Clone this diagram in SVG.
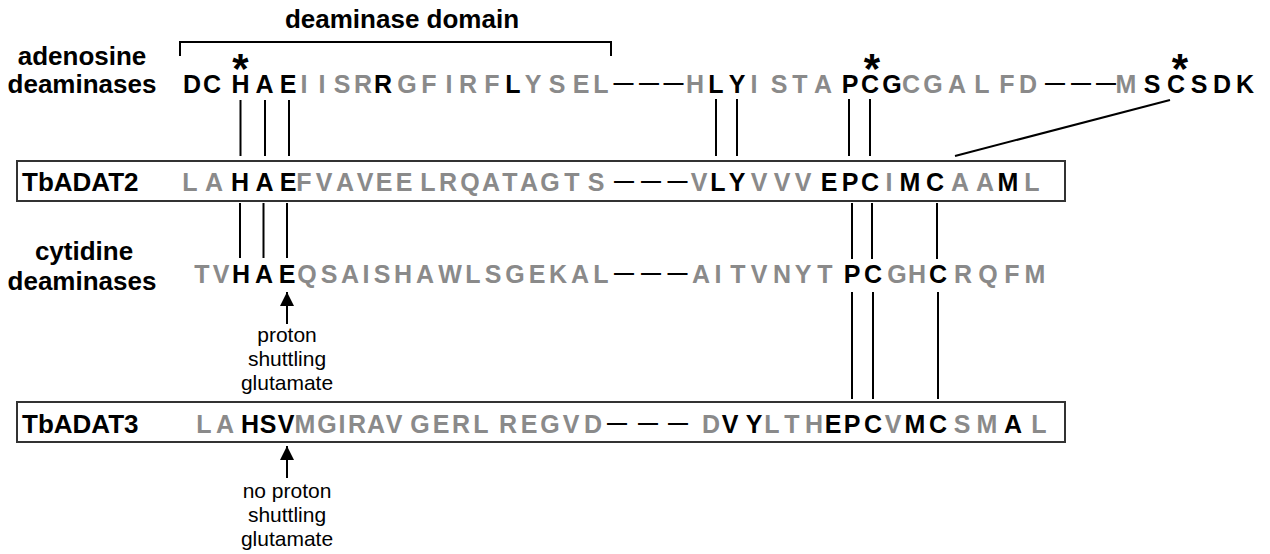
<svg xmlns="http://www.w3.org/2000/svg" width="1270" height="554" viewBox="0 0 1270 554">
<defs>
<style>
.lbl{font-family:"Liberation Sans",Arial,sans-serif;font-weight:bold;font-size:26px;fill:#000}
.mid{text-anchor:middle}
.seq{font-family:"Liberation Sans",Arial,sans-serif;font-weight:bold;font-size:25px;text-anchor:middle}
.k{fill:#000}
.g{fill:#8a8a8a}
.dash{font-family:"Liberation Sans",Arial,sans-serif;font-weight:bold;font-size:20px;text-anchor:middle;fill:#000}
.star{font-family:"Liberation Sans",Arial,sans-serif;font-weight:bold;font-size:42px;text-anchor:middle;fill:#000}
.note{font-family:"Liberation Sans",Arial,sans-serif;font-size:21px;text-anchor:middle;fill:#000}
.ln{stroke:#000;stroke-width:2;fill:none}
.box{fill:#fff;stroke:#333;stroke-width:2}
</style>
<marker id="ah" viewBox="0 0 10 10" refX="10" refY="5" markerWidth="7" markerHeight="7" markerUnits="strokeWidth" orient="auto">
<path d="M0,0 L10,5 L0,10 z" fill="#000"/>
</marker>
</defs>
<rect width="1270" height="554" fill="#fff"/>

<g id="domain-bracket">
<text class="lbl mid" x="402" y="28">deaminase domain</text>
<path class="ln" d="M180,56 V42 H611 V56" stroke-width="1.5"/>
</g>

<g id="adenosine-deaminases">
<text class="lbl mid" x="82" y="65">adenosine</text>
<text class="lbl mid" x="82" y="93">deaminases</text>
<text class="star" x="240.5" y="83">*</text>
<text class="star" x="872" y="83">*</text>
<text class="star" x="1180" y="83">*</text>
<text class="seq" y="93"><tspan class="k" x="192 212 240.5 264.5 288">DCHAE</tspan><tspan class="g" x="304 322 342 363">IISR</tspan><tspan class="k" x="383">R</tspan><tspan class="g" x="407 429 449 468 492">GFIRF</tspan><tspan class="k" x="513">L</tspan><tspan class="g" x="533 557 581 601">YSEL</tspan><tspan class="g" x="695">H</tspan><tspan class="k" x="716 737">LY</tspan><tspan class="g" x="754 779 800 823">ISTA</tspan><tspan class="k" x="850 870 892">PCG</tspan><tspan class="g" x="911 933 957 982 1007 1028">CGALFD</tspan><tspan class="g" x="1126">M</tspan><tspan class="k" x="1152 1176 1199 1222 1245">SCSDK</tspan></text>
<text class="dash" y="89"><tspan x="623.5 649 673.5">———</tspan><tspan x="1055 1081 1106">———</tspan></text>
</g>

<g id="TbADAT2">
<rect class="box" x="17" y="161" width="1048" height="40"/>
<text class="lbl" x="22" y="191">TbADAT2</text>
<text class="seq" y="191"><tspan class="g" x="190 214">LA</tspan><tspan class="k" x="240 264.5 288">HAE</tspan><tspan class="g" x="304 324 345 365 384 404 428 448 470 491 510 529 550 572 596">FVAVEELRQATAGTS</tspan><tspan class="g" x="699">V</tspan><tspan class="k" x="718 737">LY</tspan><tspan class="g" x="759 782 803">VVV</tspan><tspan class="k" x="829 850 870">EPC</tspan><tspan class="g" x="889">I</tspan><tspan class="k" x="910 935">MC</tspan><tspan class="g" x="960 985">AA</tspan><tspan class="k" x="1008">M</tspan><tspan class="g" x="1032">L</tspan></text>
<text class="dash" y="187"><tspan x="624 651 677.5">———</tspan></text>
</g>

<g id="cytidine-deaminases">
<text class="lbl mid" x="84" y="260">cytidine</text>
<text class="lbl mid" x="82" y="290">deaminases</text>
<text class="seq" y="283"><tspan class="g" x="202 221">TV</tspan><tspan class="k" x="241 264 287">HAE</tspan><tspan class="g" x="307 329 350 366 382 403 425 450 473 493 515 537 558 580 601">QSAISHAWLSGEKAL</tspan><tspan class="g" x="701 718 738 759 782 803 825">AITVNYT</tspan><tspan class="k" x="852 873">PC</tspan><tspan class="g" x="897 917">GH</tspan><tspan class="k" x="938">C</tspan><tspan class="g" x="963 988 1012 1035">RQFM</tspan></text>
<text class="dash" y="279"><tspan x="624 651 677.5">———</tspan></text>
</g>

<g id="proton-note">
<text class="note" x="287" y="342">proton</text>
<text class="note" x="287" y="366">shuttling</text>
<text class="note" x="287" y="390">glutamate</text>
</g>

<g id="TbADAT3">
<rect class="box" x="17" y="402" width="1048" height="40"/>
<text class="lbl" x="22" y="433">TbADAT3</text>
<text class="seq" y="433"><tspan class="g" x="204 225">LA</tspan><tspan class="k" x="250 268 286">HSV</tspan><tspan class="g" x="305 327 342 357 376 394 420 441 461 481 508 529 550 571 593">MGIRAVGERLREGVD</tspan><tspan class="g" x="711">D</tspan><tspan class="k" x="730 754">VY</tspan><tspan class="g" x="772 792 814">LTH</tspan><tspan class="k" x="833 852 873">EPC</tspan><tspan class="g" x="893">V</tspan><tspan class="k" x="915 938">MC</tspan><tspan class="g" x="962 987">SM</tspan><tspan class="k" x="1013">A</tspan><tspan class="g" x="1039">L</tspan></text>
<text class="dash" y="429"><tspan x="617 648 678">———</tspan></text>
</g>

<g id="no-proton-note">
<text class="note" x="287" y="498">no proton</text>
<text class="note" x="287" y="522">shuttling</text>
<text class="note" x="287" y="546">glutamate</text>
</g>

<g id="connectors">
<line class="ln" x1="240.5" y1="100" x2="240.5" y2="156"/>
<line class="ln" x1="265" y1="100" x2="265" y2="156"/>
<line class="ln" x1="289" y1="100" x2="289" y2="156"/>
<line class="ln" x1="716" y1="99" x2="716" y2="156"/>
<line class="ln" x1="737" y1="99" x2="737" y2="156"/>
<line class="ln" x1="849" y1="99" x2="849" y2="156"/>
<line class="ln" x1="870" y1="99" x2="870" y2="156"/>
<line class="ln" x1="955" y1="156" x2="1170" y2="100"/>
<line class="ln" x1="240" y1="203" x2="240" y2="258"/>
<line class="ln" x1="263.5" y1="203" x2="263.5" y2="258"/>
<line class="ln" x1="287" y1="203" x2="287" y2="258"/>
<line class="ln" x1="852" y1="203" x2="852" y2="259"/>
<line class="ln" x1="872" y1="203" x2="872" y2="259"/>
<line class="ln" x1="937" y1="203" x2="937" y2="259"/>
<line class="ln" x1="852" y1="292" x2="852" y2="399"/>
<line class="ln" x1="873" y1="292" x2="873" y2="399"/>
<line class="ln" x1="938" y1="292" x2="938" y2="399"/>
<line class="ln" x1="287" y1="324" x2="287" y2="292" marker-end="url(#ah)"/>
<line class="ln" x1="287" y1="478" x2="287" y2="446" marker-end="url(#ah)"/>
</g>
</svg>
